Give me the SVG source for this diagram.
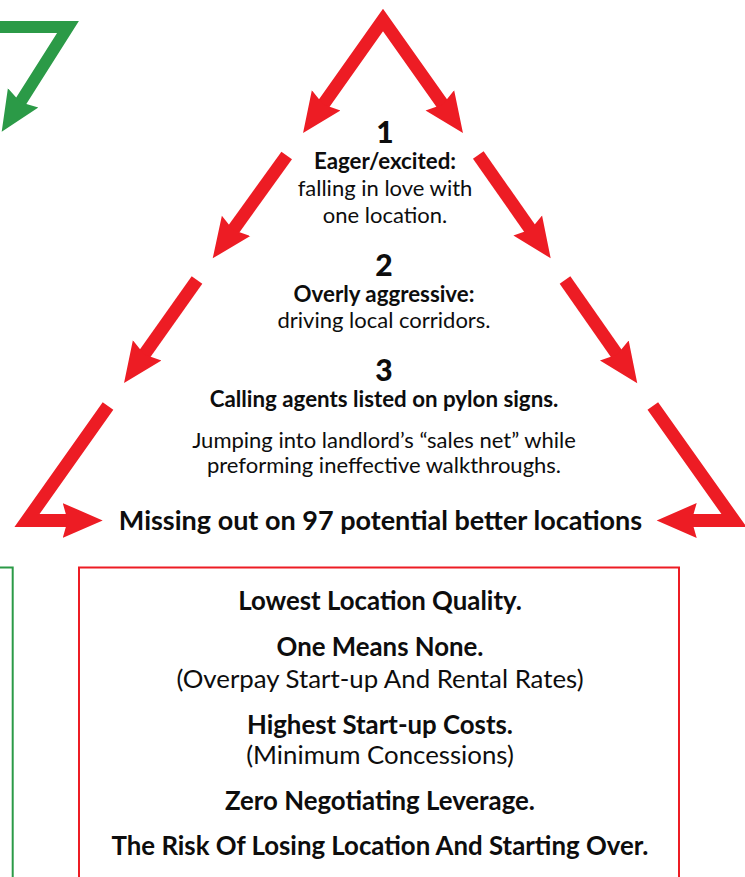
<svg xmlns="http://www.w3.org/2000/svg" width="745" height="877" viewBox="0 0 745 877">
<style>
.t{font-family:Lato,"Liberation Sans",sans-serif;fill:#0d0d0d;text-anchor:middle}
.num{font-size:30px;font-weight:900}
.b{font-size:22.3px;font-weight:700}
.r{font-size:22px;font-weight:400}
.mb{font-size:27px;font-weight:700}
.bb{font-size:25.8px;font-weight:700}
.br{font-size:25.8px;font-weight:400}
.red{fill:none;stroke:#ed1c24;stroke-width:13;stroke-linejoin:miter}
.grn{fill:none;stroke:#2b9a47;stroke-width:12;stroke-linejoin:miter}
</style>
<defs>
<marker id="ahR" markerUnits="userSpaceOnUse" markerWidth="45" markerHeight="40" viewBox="0 -20 45 40" refX="20" refY="0" orient="auto-start-reverse">
<path d="M0,-17.5 L40,0 L0,17.5 L5,0 Z" fill="#ed1c24"/>
</marker>
<marker id="ahG" markerUnits="userSpaceOnUse" markerWidth="45" markerHeight="40" viewBox="0 -20 45 40" refX="20" refY="0" orient="auto">
<path d="M0,-18 L40,0 L0,18 L5,0 Z" fill="#2b9a47"/>
</marker>
</defs>
<rect x="0" y="0" width="745" height="877" fill="#fff"/>
<g id="connectors">
<path class="grn" d="M-10,27 L68,27 L12.4,114.8" marker-end="url(#ahG)"/>
<path class="red" d="M314.6,116.7 L383,20 L451.4,116.7" marker-start="url(#ahR)" marker-end="url(#ahR)"/>
<path class="red" d="M286.7,155.5 L224.4,242.1" marker-end="url(#ahR)"/>
<path class="red" d="M197,280 L135.6,366.7" marker-end="url(#ahR)"/>
<path class="red" d="M478.3,155 L539.2,241.9" marker-end="url(#ahR)"/>
<path class="red" d="M565,280 L625.8,366.9" marker-end="url(#ahR)"/>
<path class="red" d="M108,406 L27,520.5 L82.7,520.5" marker-end="url(#ahR)"/>
<path class="red" d="M652.8,406 L734,520.5 L676.7,520.5" marker-end="url(#ahR)"/>
</g>
<g id="step1">
<text class="t num" x="385" y="142.5">1</text>
<text class="t b" x="385" y="169">Eager/excited:</text>
<text class="t r" x="385" y="196">falling in love with</text>
<text class="t r" x="385" y="223">one location.</text>
</g>
<g id="step2">
<text class="t num" x="384" y="276">2</text>
<text class="t b" x="384" y="302">Overly aggressive:</text>
<text class="t r" x="384" y="328">driving local corridors.</text>
</g>
<g id="step3">
<text class="t num" x="384" y="380.5">3</text>
<text class="t b" x="384" y="407">Calling agents listed on pylon signs.</text>
<text class="t r" x="384" y="448">Jumping into landlord’s “sales net” while</text>
<text class="t r" x="384" y="473">preforming ineffective walkthroughs.</text>
</g>
<g id="result">
<text class="t mb" x="380.5" y="530">Missing out on 97 potential better locations</text>
</g>
<g id="green-box">
<rect x="-100" y="567.5" width="112.7" height="400" fill="none" stroke="#2b9a47" stroke-width="2"/>
</g>
<g id="consequences">
<rect x="79" y="567.5" width="600" height="400" fill="none" stroke="#ed1c24" stroke-width="2"/>
<text class="t bb" x="380" y="610">Lowest Location Quality.</text>
<text class="t bb" x="380" y="656">One Means None.</text>
<text class="t br" x="380" y="688">(Overpay Start-up And Rental Rates)</text>
<text class="t bb" x="380" y="734">Highest Start-up Costs.</text>
<text class="t br" x="380" y="764">(Minimum Concessions)</text>
<text class="t bb" x="380" y="810">Zero Negotiating Leverage.</text>
<text class="t bb" x="380" y="855">The Risk Of Losing Location And Starting Over.</text>
</g>
</svg>
